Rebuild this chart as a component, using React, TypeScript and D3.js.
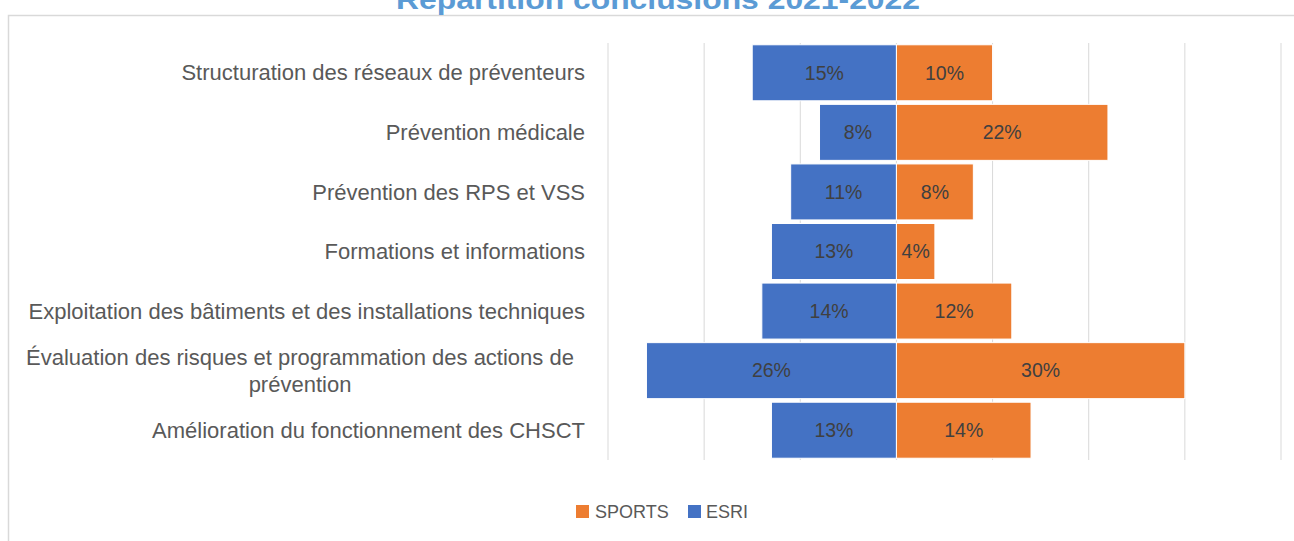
import React from "react";
import * as d3 from "d3";

// categories, top to bottom
const categories = [
  "Structuration des réseaux de préventeurs",
  "Prévention médicale",
  "Prévention des RPS et VSS",
  "Formations et informations",
  "Exploitation des bâtiments et des installations techniques",
  "Évaluation des risques et programmation des actions de prévention",
  "Amélioration du fonctionnement des CHSCT",
];

// wrapped labels (Excel wraps the long one)
const labelLines = [
  ["Structuration des réseaux de préventeurs"],
  ["Prévention médicale"],
  ["Prévention des RPS et VSS"],
  ["Formations et informations"],
  ["Exploitation des bâtiments et des installations techniques"],
  ["Évaluation des risques et programmation des actions de", "prévention"],
  ["Amélioration du fonctionnement des CHSCT"],
];

const esri = [15, 8, 11, 13, 14, 26, 13];
const sports = [10, 22, 8, 4, 12, 30, 14];

const gridTicks = [-30, -20, -10, 0, 10, 20, 30, 40];

const BLUE = "#4472C4";
const ORANGE = "#ED7D31";
const FONT = "'Liberation Sans', Arial, sans-serif";

export default function App() {
  const width = 1294;
  const height = 541;

  const x = d3.scaleLinear().domain([-30, 40]).range([608, 1281]);
  const y = d3
    .scaleBand<string>()
    .domain(categories)
    .range([43, 460])
    .paddingInner(0.06)
    .paddingOuter(0.03);

  const labelRight = 585;

  return (
    <svg
      width={width}
      height={height}
      style={{ position: "absolute", left: 0, top: 0, background: "#fff" }}
    >
      {/* chart area border */}
      <rect x={8.5} y={15.5} width={1300} height={600} fill="#fff" stroke="#d9d9d9" strokeWidth={1.5} />

      {/* title, cut at the top */}
      <text
        x={658}
        y={9}
        textAnchor="middle"
        fontFamily={FONT}
        fontWeight="bold"
        fontSize={27}
        fill="#5B9BD5"
        textLength={524}
        lengthAdjust="spacingAndGlyphs"
      >
        Répartition conclusions 2021-2022
      </text>

      {/* gridlines */}
      {gridTicks.map((t) => (
        <line key={t} x1={x(t)} x2={x(t)} y1={43} y2={460} stroke="#d9d9d9" strokeWidth={1} />
      ))}

      {/* bars */}
      {categories.map((c, i) => {
        const yy = y(c)!;
        const bh = y.bandwidth();
        return (
          <g key={c}>
            <rect x={x(-esri[i])} y={yy} width={x(0) - x(-esri[i])} height={bh} fill={BLUE} stroke="#fff" strokeWidth={1} />
            <rect x={x(0)} y={yy} width={x(sports[i]) - x(0)} height={bh} fill={ORANGE} stroke="#fff" strokeWidth={1} />
            <text
              x={(x(-esri[i]) + x(0)) / 2}
              y={yy + bh / 2}
              dy="0.35em"
              textAnchor="middle"
              fontFamily={FONT}
              fontSize={19.5}
              fill="#404040"
            >
              {esri[i]}%
            </text>
            <text
              x={(x(sports[i]) + x(0)) / 2}
              y={yy + bh / 2}
              dy="0.35em"
              textAnchor="middle"
              fontFamily={FONT}
              fontSize={19.5}
              fill="#404040"
            >
              {sports[i]}%
            </text>
          </g>
        );
      })}

      {/* category labels */}
      {categories.map((c, i) => {
        const cy = y(c)! + y.bandwidth() / 2;
        const lines = labelLines[i];
        if (lines.length === 1) {
          return (
            <text key={c} x={labelRight} y={cy} dy="0.35em" textAnchor="end" fontFamily={FONT} fontSize={22} fill="#595959">
              {lines[0]}
            </text>
          );
        }
        const lh = 27;
        return (
          <text key={c} textAnchor="middle" fontFamily={FONT} fontSize={22} fill="#595959">
            {lines.map((l, j) => (
              <tspan key={j} x={300} y={cy + (j - (lines.length - 1) / 2) * lh} dy="0.35em">
                {l}
              </tspan>
            ))}
          </text>
        );
      })}

      {/* legend */}
      <g fontFamily={FONT} fontSize={18} fill="#595959">
        <rect x={576} y={505} width={13} height={13} fill={ORANGE} />
        <text x={595} y={511.5} dy="0.35em">SPORTS</text>
        <rect x={688} y={505} width={13} height={13} fill={BLUE} />
        <text x={706} y={511.5} dy="0.35em">ESRI</text>
      </g>
    </svg>
  );
}
